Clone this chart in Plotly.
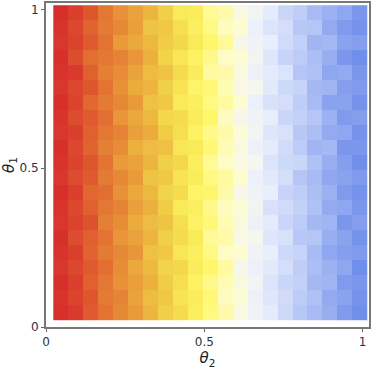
import plotly.graph_objects as go

# theta2 cell centres (21 columns) and theta1 cell centres (21 rows)
n = 21
x_start, x_end = 0.023, 1.013
y_start, y_end = 0.022, 1.013

# cell values, 0..100, rows from bottom (theta1=0) to top
rows = [
    [1, 4, 11, 16, 21, 25, 31, 38, 41, 47, 52, 56, 63, 67, 71, 78, 84, 88, 92, 97, 100],
    [2, 6, 10, 18, 20, 27, 33, 36, 43, 46, 51, 58, 61, 68, 73, 77, 83, 86, 93, 95, 99],
    [1, 5, 12, 17, 23, 26, 30, 37, 42, 48, 53, 57, 62, 66, 74, 79, 81, 89, 90, 97, 98],
    [3, 7, 11, 15, 22, 28, 32, 39, 40, 46, 50, 55, 64, 69, 72, 76, 82, 87, 91, 94, 100],
    [2, 5, 13, 18, 21, 24, 34, 36, 44, 47, 52, 59, 60, 67, 70, 78, 80, 88, 94, 96, 97],
    [1, 8, 12, 16, 24, 27, 31, 38, 41, 45, 54, 56, 63, 65, 73, 75, 84, 85, 92, 95, 99],
    [3, 6, 9, 19, 22, 29, 33, 35, 42, 48, 51, 57, 62, 68, 71, 79, 83, 89, 90, 98, 96],
    [2, 7, 12, 17, 20, 26, 30, 37, 45, 47, 53, 58, 61, 66, 75, 77, 81, 86, 93, 94, 98],
    [1, 5, 14, 15, 23, 28, 32, 39, 41, 49, 50, 56, 64, 67, 70, 80, 82, 87, 91, 97, 99],
    [3, 8, 11, 18, 21, 25, 35, 36, 43, 46, 52, 55, 60, 69, 72, 76, 85, 88, 94, 95, 97],
    [2, 6, 10, 16, 25, 27, 31, 38, 40, 47, 54, 59, 63, 65, 74, 78, 79, 86, 92, 96, 100],
    [1, 7, 13, 19, 22, 30, 33, 34, 44, 45, 51, 57, 62, 68, 71, 77, 83, 90, 89, 98, 98],
    [3, 5, 12, 17, 20, 26, 29, 37, 42, 48, 53, 56, 61, 66, 73, 75, 84, 87, 93, 94, 99],
    [2, 8, 11, 15, 24, 28, 32, 40, 41, 46, 50, 58, 64, 67, 70, 79, 81, 85, 91, 97, 96],
    [1, 6, 14, 18, 21, 25, 34, 36, 45, 47, 52, 55, 60, 69, 75, 76, 82, 88, 95, 95, 99],
    [3, 7, 10, 16, 23, 29, 31, 38, 43, 49, 51, 57, 63, 65, 72, 78, 80, 89, 90, 96, 97],
    [2, 4, 12, 19, 22, 27, 33, 35, 41, 46, 55, 56, 62, 68, 71, 74, 85, 86, 94, 93, 98],
    [1, 8, 15, 17, 20, 24, 30, 39, 44, 48, 53, 59, 61, 66, 73, 80, 83, 87, 92, 98, 100],
    [3, 6, 11, 16, 25, 28, 32, 37, 40, 45, 50, 54, 64, 67, 70, 77, 81, 90, 89, 95, 96],
    [2, 7, 13, 18, 21, 26, 35, 36, 42, 47, 52, 58, 60, 69, 74, 76, 84, 85, 93, 97, 99],
    [1, 5, 10, 17, 23, 27, 31, 38, 45, 46, 54, 56, 63, 66, 71, 79, 82, 88, 91, 94, 98],
]

# red -> orange -> yellow -> white -> blue
palette = [
    "rgb(214,44,44)", "rgb(218,62,45)", "rgb(222,86,46)", "rgb(226,110,50)",
    "rgb(229,132,54)", "rgb(233,155,58)", "rgb(236,176,62)", "rgb(239,196,68)",
    "rgb(243,216,76)", "rgb(249,234,88)", "rgb(255,246,108)", "rgb(255,250,160)",
    "rgb(252,252,208)", "rgb(245,246,240)", "rgb(232,238,252)", "rgb(215,225,250)",
    "rgb(199,211,248)", "rgb(180,197,246)", "rgb(160,181,242)", "rgb(138,163,239)",
    "rgb(112,143,234)",
]
colorscale = [[i / 20, c] for i, c in enumerate(palette)]

z = [[v / 100 for v in r] for r in rows]
dx = (x_end - x_start) / n
dy = (y_end - y_start) / n

fig = go.Figure(go.Heatmap(
    z=z,
    x0=x_start + dx / 2, dx=dx,
    y0=y_start + dy / 2, dy=dy,
    colorscale=colorscale, zmin=0, zmax=1,
    showscale=False,
))

axis_style = dict(
    range=[0, 1.02],
    tickvals=[0, 0.5, 1], ticktext=["0", "0.5", "1"],
    ticks="outside", ticklen=3, tickcolor="#666",
    showline=True, linecolor="#777", linewidth=2, mirror=True,
    showgrid=False, zeroline=False, automargin=False,
    tickfont=dict(family="DejaVu Sans", size=12, color="#2b3340"),
)

fig.update_layout(
    width=374, height=372,
    margin=dict(l=46, r=5, t=3, b=45),
    plot_bgcolor="white", paper_bgcolor="white",
    xaxis=dict(axis_style, title=dict(text="<i>θ</i><sub>2</sub>", standoff=2,
                                      font=dict(family="DejaVu Sans", size=15, color="#222"))),
    yaxis=dict(axis_style, title=dict(text="<i>θ</i><sub>1</sub>", standoff=0,
                                      font=dict(family="DejaVu Sans", size=15, color="#222"))),
)

# drop the browser's default 8px body margin so the figure fills the window
fig.write_html("out.html", config={"displayModeBar": False},
               post_script="document.body.style.margin='0';")
